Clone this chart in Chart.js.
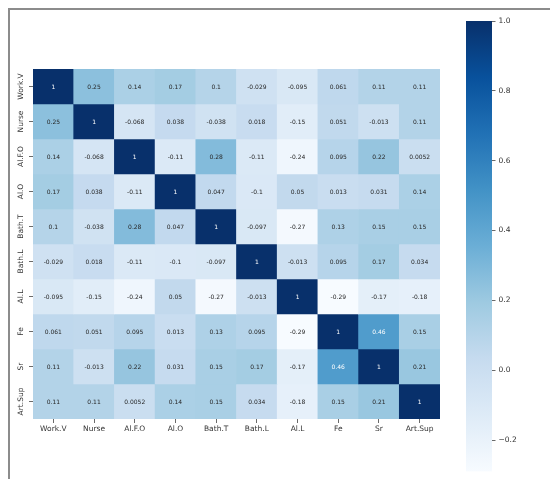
<!DOCTYPE html>
<html>
<head>
<meta charset="utf-8">
<script src="https://cdn.jsdelivr.net/npm/chart.js@4/dist/chart.umd.min.js"></script>
<style>
  html, body { margin: 0; padding: 0; background: #fff; width: 550px; height: 479px; overflow: hidden; }
  #frame { position: absolute; left: 8px; top: 8px; width: 560px; height: 490px;
           border-left: 2px solid #8c8c8c; border-top: 2px solid #8c8c8c; }
  #heat { position: absolute; left: 0; top: 0; }
  #cbar { position: absolute; left: 450px; top: 0; }
</style>
</head>
<body>
<div id="frame"></div>
<canvas id="heat" width="450" height="479"></canvas>
<canvas id="cbar" width="100" height="479"></canvas>
<script>
// Variable names (rows and columns of the correlation matrix)
const labels = ["Work.V", "Nurse", "Al.F.O", "Al.O", "Bath.T", "Bath.L", "Al.L", "Fe", "Sr", "Art.Sup"];

// Correlation rows
const rowWorkV  = [1,      0.25,   0.14,   0.17,   0.1,    -0.029, -0.095, 0.061, 0.11,   0.11];
const rowNurse  = [0.25,   1,      -0.068, 0.038,  -0.038, 0.018,  -0.15,  0.051, -0.013, 0.11];
const rowAlFO   = [0.14,   -0.068, 1,      -0.11,  0.28,   -0.11,  -0.24,  0.095, 0.22,   0.0052];
const rowAlO    = [0.17,   0.038,  -0.11,  1,      0.047,  -0.1,   0.05,   0.013, 0.031,  0.14];
const rowBathT  = [0.1,    -0.038, 0.28,   0.047,  1,      -0.097, -0.27,  0.13,  0.15,   0.15];
const rowBathL  = [-0.029, 0.018,  -0.11,  -0.1,   -0.097, 1,      -0.013, 0.095, 0.17,   0.034];
const rowAlL    = [-0.095, -0.15,  -0.24,  0.05,   -0.27,  -0.013, 1,      -0.29, -0.17,  -0.18];
const rowFe     = [0.061,  0.051,  0.095,  0.013,  0.13,   0.095,  -0.29,  1,     0.46,   0.15];
const rowSr     = [0.11,   -0.013, 0.22,   0.031,  0.15,   0.17,   -0.17,  0.46,  1,      0.21];
const rowArtSup = [0.11,   0.11,   0.0052, 0.14,   0.15,   0.034,  -0.18,  0.15,  0.21,   1];

// Colour bar tick values
const colorbarTicks = [-0.2, 0.0, 0.2, 0.4, 0.6, 0.8, 1.0];

const matrix = [rowWorkV, rowNurse, rowAlFO, rowAlO, rowBathT, rowBathL, rowAlL, rowFe, rowSr, rowArtSup];
const vmin = Math.min(...matrix.flat());
const vmax = Math.max(...matrix.flat());

// "Blues" sequential colour map
const bluesStops = ['#f7fbff', '#deebf7', '#c6dbef', '#9ecae1', '#6baed6', '#4292c6', '#2171b5', '#08519c', '#08306b'];
const hexRgb = h => [1, 3, 5].map(i => parseInt(h.substr(i, 2), 16));
const bluesRgb = bluesStops.map(hexRgb);
function bluesAt(t) {
  t = Math.min(1, Math.max(0, t));
  const p = t * (bluesRgb.length - 1);
  const i = Math.min(bluesRgb.length - 2, Math.floor(p));
  const f = p - i;
  return bluesRgb[i].map((c, k) => c + (bluesRgb[i + 1][k] - c) * f);
}
const colorFor = v => {
  const c = bluesAt((v - vmin) / (vmax - vmin));
  return `rgb(${c.map(Math.round).join(',')})`;
};
function textColorFor(v) {
  const c = bluesAt((v - vmin) / (vmax - vmin)).map(x => {
    x /= 255;
    return x <= 0.03928 ? x / 12.92 : Math.pow((x + 0.055) / 1.055, 2.4);
  });
  const lum = 0.2126 * c[0] + 0.7152 * c[1] + 0.0722 * c[2];
  return lum > 0.408 ? '#262626' : '#ffffff';
}
const fmt2g = v => String(Number(v.toPrecision(2)));

// One floating-bar dataset per row; each bar spans exactly one row band
const datasets = matrix.map((row, r) => ({
  label: labels[r],
  data: row.map(() => [r, r + 1]),
  values: row,
  backgroundColor: row.map(colorFor),
  borderWidth: 0,
  barPercentage: 1,
  categoryPercentage: 1
}));

const FONT = '"DejaVu Sans", sans-serif';

// Writes each cell's value at the centre of its bar
const cellValues = {
  id: 'cellValues',
  afterDatasetsDraw(chart) {
    const ctx = chart.ctx;
    ctx.save();
    ctx.font = `6px ${FONT}`;
    ctx.textAlign = 'center';
    ctx.textBaseline = 'middle';
    chart.data.datasets.forEach((ds, r) => {
      chart.getDatasetMeta(r).data.forEach((el, c) => {
        const p = el.getCenterPoint();
        ctx.fillStyle = textColorFor(ds.values[c]);
        ctx.fillText(fmt2g(ds.values[c]), p.x, p.y + 0.5);
      });
    });
    ctx.restore();
  }
};

// Row names, rotated, beside the left tick marks
const rowNames = {
  id: 'rowNames',
  afterDraw(chart) {
    const ys = chart.scales.y;
    const ctx = chart.ctx;
    ctx.save();
    ctx.font = `7.5px ${FONT}`;
    ctx.fillStyle = '#333';
    ctx.textAlign = 'center';
    ctx.textBaseline = 'middle';
    labels.forEach((name, i) => {
      ctx.save();
      ctx.translate(ys.right - 12, ys.getPixelForValue(i + 0.5));
      ctx.rotate(-Math.PI / 2);
      ctx.fillText(name, 0, 0);
      ctx.restore();
    });
    ctx.restore();
  }
};

new Chart(document.getElementById('heat'), {
  type: 'bar',
  data: { labels, datasets },
  options: {
    responsive: false,
    animation: false,
    layout: { padding: { left: 0, top: 69, right: 10, bottom: 35 } },
    plugins: { legend: { display: false }, tooltip: { enabled: false } },
    scales: {
      x: {
        stacked: true,
        offset: true,
        grid: { offset: false, drawOnChartArea: false, drawTicks: true, tickLength: 4, color: '#444', lineWidth: 0.8 },
        border: { display: false },
        ticks: { font: { family: FONT, size: 7.5 }, color: '#333', padding: 2, maxRotation: 0, autoSkip: false },
        afterFit: s => { s.height = 25; }
      },
      y: {
        type: 'linear',
        stacked: false,
        min: 0,
        max: 10,
        reverse: true,
        afterBuildTicks: s => { s.ticks = labels.map((_, i) => ({ value: i + 0.5 })); },
        grid: { drawOnChartArea: false, drawTicks: true, tickLength: 4, color: '#444', lineWidth: 0.8 },
        border: { display: false },
        ticks: { display: false },
        afterFit: s => { s.width = 33; }
      }
    }
  },
  plugins: [cellValues, rowNames]
});

// Colour bar: a single floating bar from vmin to vmax filled with the map
function barGradient(context) {
  const area = context.chart.chartArea;
  if (!area) return bluesStops[4];
  const g = context.chart.ctx.createLinearGradient(0, area.bottom, 0, area.top);
  bluesStops.forEach((c, i) => g.addColorStop(i / (bluesStops.length - 1), c));
  return g;
}

new Chart(document.getElementById('cbar'), {
  type: 'bar',
  data: {
    labels: [''],
    datasets: [{ data: [[vmin, vmax]], backgroundColor: barGradient, borderWidth: 0, barPercentage: 1, categoryPercentage: 1 }]
  },
  options: {
    responsive: false,
    animation: false,
    layout: { padding: { left: 16, top: 21, right: 0, bottom: 7 } },
    plugins: { legend: { display: false }, tooltip: { enabled: false } },
    scales: {
      x: { display: false },
      y: {
        position: 'right',
        min: vmin,
        max: vmax,
        afterBuildTicks: s => { s.ticks = colorbarTicks.map(v => ({ value: v })); },
        grid: { drawOnChartArea: false, drawTicks: true, tickLength: 3.5, color: '#444', lineWidth: 0.8 },
        border: { display: false },
        ticks: {
          font: { family: FONT, size: 7.5 },
          color: '#333',
          padding: 3,
          callback: v => v.toFixed(1).replace('-', '\u2212')
        },
        afterFit: s => { s.width = 58; }
      }
    }
  }
});
</script>
</body>
</html>
